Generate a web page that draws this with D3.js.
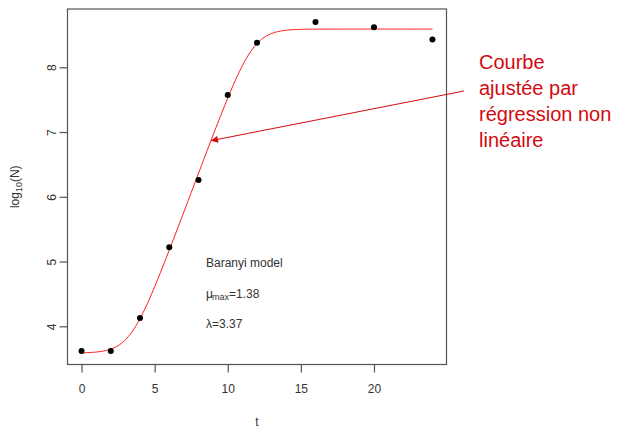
<!DOCTYPE html>
<html>
<head>
<meta charset="utf-8">
<script src="https://cdn.jsdelivr.net/npm/d3@7"></script>
<style>
  html, body { margin: 0; padding: 0; background: #ffffff; }
  svg { display: block; font-family: "Liberation Sans", Arial, sans-serif; }
</style>
</head>
<body>
<svg id="chart" width="623" height="429"></svg>
<script>
// Observed counts (log10 N) over time t
const times = [0, 2, 4, 6, 8, 10, 12, 16, 20, 24];
const log10N = [3.62, 3.62, 4.13, 5.22, 6.26, 7.57, 8.38, 8.70, 8.62, 8.43];

// Fitted Baranyi parameters
const muMax = 1.38;
const lambda = 3.37;
const log10N0 = 3.59;
const log10Nmax = 8.59;

const xTicks = [0, 5, 10, 15, 20];
const yTicks = [4, 5, 6, 7, 8];

const annotationLines = ["Courbe", "ajustée par", "régression non", "linéaire"];

const svg = d3.select("#chart");

const x = d3.scaleLinear().domain([-0.96, 24.96]).range([67.5, 446.5]);
const y = d3.scaleLinear().domain([3.41, 8.90]).range([364.5, 9]);

const axisColor = "#555";
const textColor = "#333";
const fontFamily = "'Liberation Sans', Arial, sans-serif";

// Baranyi model (without curvature), log10 scale
function baranyi(t) {
  const a = Math.exp(muMax * lambda);
  const b = Math.exp(muMax * t);
  return log10Nmax + Math.log10((-1 + a + b) / (b - 1 + a * Math.pow(10, log10Nmax - log10N0)));
}

// Plot frame
svg.append("rect")
  .attr("x", x.range()[0]).attr("y", y.range()[1])
  .attr("width", x.range()[1] - x.range()[0])
  .attr("height", y.range()[0] - y.range()[1])
  .attr("fill", "none").attr("stroke", axisColor).attr("stroke-width", 1.2);

// Bottom axis
const xAxis = svg.append("g")
  .attr("transform", `translate(0,${y.range()[0]})`)
  .call(d3.axisBottom(x).tickValues(xTicks).tickFormat(d3.format("d")).tickSize(8).tickPadding(12));
xAxis.select(".domain").remove();
xAxis.selectAll("line").attr("stroke", axisColor).attr("stroke-width", 1.2);
xAxis.selectAll("text").attr("fill", textColor).style("font-size", "12px")
  .style("font-family", fontFamily);

// Left axis with rotated labels
const yAxis = svg.append("g")
  .attr("transform", `translate(${x.range()[0]},0)`)
  .call(d3.axisLeft(y).tickValues(yTicks).tickFormat(d3.format("d")).tickSize(8).tickPadding(0));
yAxis.select(".domain").remove();
yAxis.selectAll("line").attr("stroke", axisColor).attr("stroke-width", 1.2);
yAxis.selectAll("text")
  .attr("x", null)
  .attr("text-anchor", "middle")
  .attr("transform", "translate(-16,0) rotate(-90)")
  .attr("dy", "0.35em")
  .attr("fill", textColor).style("font-size", "12px")
  .style("font-family", fontFamily);

// Axis titles
svg.append("text")
  .attr("x", (x.range()[0] + x.range()[1]) / 2)
  .attr("y", 426)
  .attr("text-anchor", "middle")
  .attr("fill", textColor).style("font-size", "12px")
  .text("t");

const yTitle = svg.append("text")
  .attr("transform", `translate(19,${(y.range()[0] + y.range()[1]) / 2}) rotate(-90)`)
  .attr("text-anchor", "middle")
  .attr("fill", textColor).style("font-size", "12px");
yTitle.append("tspan").text("log");
yTitle.append("tspan").attr("dy", 3).style("font-size", "9px").text("10");
yTitle.append("tspan").attr("dy", -3).text("(N)");

// Fitted curve
const tGrid = d3.range(0, 24.0001, 0.1);
svg.append("path")
  .datum(tGrid)
  .attr("fill", "none")
  .attr("stroke", "#ff1a1a")
  .attr("stroke-width", 1)
  .attr("d", d3.line().x(t => x(t)).y(t => y(baranyi(t))));

// Observations
svg.selectAll("circle.obs")
  .data(times.map((t, i) => ({ t, v: log10N[i] })))
  .join("circle")
  .attr("class", "obs")
  .attr("cx", d => x(d.t)).attr("cy", d => y(d.v))
  .attr("r", 3).attr("fill", "#000");

// Model text inside the plot
const info = svg.append("g").attr("fill", textColor).style("font-size", "12px");
info.append("text").attr("x", 206).attr("y", 267).text("Baranyi model");
const mu = info.append("text").attr("x", 206).attr("y", 298);
mu.append("tspan").text("μ");
mu.append("tspan").attr("dy", 2).attr("dx", -1).style("font-size", "9px").text("max");
mu.append("tspan").attr("dy", -2).text("=" + muMax.toFixed(2));
info.append("text").attr("x", 206).attr("y", 328).text("λ=" + lambda.toFixed(2));

// Annotation arrow pointing to the curve
const red = "#d20a10";
svg.append("defs").append("marker")
  .attr("id", "head")
  .attr("viewBox", "0 0 10 10")
  .attr("refX", 10).attr("refY", 5)
  .attr("markerWidth", 9).attr("markerHeight", 7)
  .attr("markerUnits", "userSpaceOnUse")
  .attr("orient", "auto")
  .append("path").attr("d", "M0,0 L10,5 L0,10 z").attr("fill", red);

svg.append("line")
  .attr("x1", 464).attr("y1", 91)
  .attr("x2", x(8.85)).attr("y2", y(baranyi(8.85)))
  .attr("stroke", red).attr("stroke-width", 1)
  .attr("marker-end", "url(#head)");

// Annotation text
svg.append("g")
  .selectAll("text")
  .data(annotationLines)
  .join("text")
  .attr("x", 479)
  .attr("y", (d, i) => 69 + i * 26)
  .attr("fill", red)
  .style("font-size", "20px")
  .text(d => d);
</script>
</body>
</html>
